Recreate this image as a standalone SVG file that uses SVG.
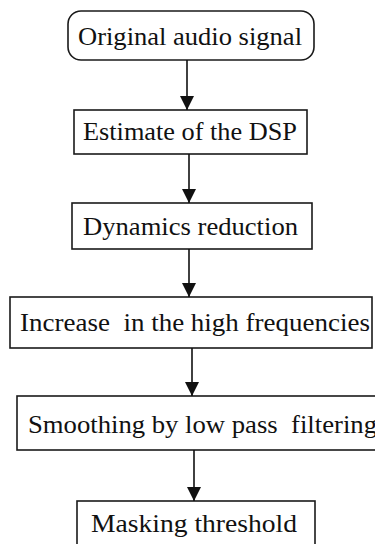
<svg xmlns="http://www.w3.org/2000/svg" width="375" height="544" viewBox="0 0 375 544">
  <style>
    .box { fill: #ffffff; stroke: #1a1a1a; stroke-width: 1.6; }
    .lbl { font-family: "Liberation Serif", "Times New Roman", serif; font-size: 26px; fill: #111111; text-anchor: start; }
    .edge { stroke: #111111; stroke-width: 1.6; fill: none; }
  </style>
  <defs>
    <marker id="arrow" viewBox="0 0 14 14" refX="14" refY="7" markerWidth="14" markerHeight="14" markerUnits="userSpaceOnUse" orient="auto">
      <path d="M0,0 L14,7 L0,14 Z" fill="#111111"/>
    </marker>
  </defs>
  <rect width="375" height="544" fill="#ffffff"/>

  <!-- flow steps -->
  <g id="original-audio-signal">
    <rect class="box" x="68" y="11" width="246" height="49" rx="13" ry="13"/>
    <text class="lbl" x="78" y="45" textLength="224" lengthAdjust="spacingAndGlyphs">Original audio signal</text>
  </g>
  <g id="estimate-dsp">
    <rect class="box" x="74" y="110" width="233" height="44"/>
    <text class="lbl" x="83" y="140" textLength="214" lengthAdjust="spacingAndGlyphs">Estimate of the DSP</text>
  </g>
  <g id="dynamics-reduction">
    <rect class="box" x="72" y="203" width="240" height="46"/>
    <text class="lbl" x="83" y="235" textLength="215" lengthAdjust="spacingAndGlyphs">Dynamics reduction</text>
  </g>
  <g id="increase-high-frequencies">
    <rect class="box" x="10" y="297" width="362" height="51"/>
    <text class="lbl" x="20" y="331" textLength="350" lengthAdjust="spacingAndGlyphs" xml:space="preserve">Increase  in the high frequencies</text>
  </g>
  <g id="smoothing-low-pass">
    <rect class="box" x="17" y="396" width="370" height="54"/>
    <text class="lbl" x="28" y="433" textLength="349" lengthAdjust="spacingAndGlyphs" xml:space="preserve">Smoothing by low pass  filtering</text>
  </g>
  <g id="masking-threshold">
    <rect class="box" x="77" y="501" width="238" height="60"/>
    <text class="lbl" x="91" y="532" textLength="206" lengthAdjust="spacingAndGlyphs">Masking threshold</text>
  </g>

  <!-- connectors -->
  <g id="connectors">
    <line class="edge" x1="187" y1="60" x2="187" y2="110" marker-end="url(#arrow)"/>
    <line class="edge" x1="189" y1="154" x2="189" y2="203" marker-end="url(#arrow)"/>
    <line class="edge" x1="189" y1="249" x2="189" y2="297" marker-end="url(#arrow)"/>
    <line class="edge" x1="192" y1="348" x2="192" y2="396" marker-end="url(#arrow)"/>
    <line class="edge" x1="194" y1="450" x2="194" y2="501" marker-end="url(#arrow)"/>
  </g>
</svg>
